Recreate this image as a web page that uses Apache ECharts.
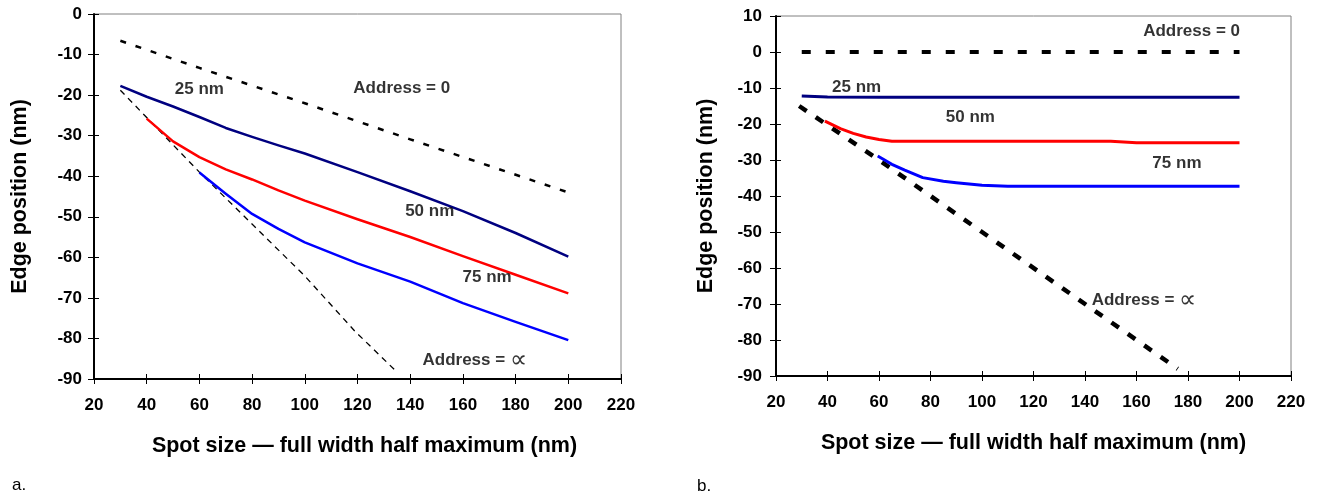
<!DOCTYPE html>
<html>
<head>
<meta charset="utf-8">
<title>Edge position vs spot size</title>
<script src="https://cdn.jsdelivr.net/npm/echarts@6/dist/echarts.min.js"></script>
<style>
  html, body { margin: 0; padding: 0; background: #ffffff; }
  #chart { width: 1317px; height: 500px; }
</style>
</head>
<body>
<div id="chart"></div>
<script>
// ---- Panel a: edge position for several address values ----
const spotA_addr0 = [30, 60, 100, 140, 200];
const edgeA_addr0 = [-6.6, -13.3, -22.0, -30.9, -44.0];
const spotA_25 = [30, 40, 50, 60, 70, 80, 90, 100, 120, 140, 160, 180, 200];
const edgeA_25 = [-17.7, -20.4, -22.8, -25.4, -28.1, -30.3, -32.4, -34.4, -39.0, -43.7, -48.6, -54.0, -59.8];
const spotA_50 = [40, 50, 60, 70, 80, 90, 100, 120, 140, 160, 180, 200];
const edgeA_50 = [-25.8, -31.4, -35.3, -38.3, -40.8, -43.5, -46.0, -50.6, -55.0, -59.7, -64.3, -68.9];
const spotA_75 = [60, 70, 80, 90, 100, 120, 140, 160, 180, 200];
const edgeA_75 = [-39.1, -44.3, -49.3, -53.0, -56.3, -61.5, -66.0, -71.3, -75.9, -80.4];
const spotA_inf = [30, 60, 100, 119, 135];
const edgeA_inf = [-18.8, -39.0, -64.6, -78.2, -88.3];

// ---- Panel b ----
const spotB_addr0 = [30, 200];
const edgeB_addr0 = [0, 0];
const spotB_25 = [30, 40, 60, 100, 150, 200];
const edgeB_25 = [-12.2, -12.5, -12.6, -12.6, -12.6, -12.6];
const spotB_50 = [39, 45, 50, 55, 60, 65, 100, 150, 160, 200];
const edgeB_50 = [-19.2, -21.3, -22.6, -23.6, -24.3, -24.8, -24.8, -24.8, -25.2, -25.2];
const spotB_75 = [59.5, 65, 70, 77, 85, 90, 100, 110, 150, 200];
const edgeB_75 = [-28.9, -31.2, -32.8, -34.9, -35.9, -36.3, -37.0, -37.3, -37.3, -37.3];
const spotB_inf = [29, 60, 100, 140, 176];
const edgeB_inf = [-15, -30, -50, -70, -88];

// Curve annotations: text and anchor in data units ("sym" adds a large ∝ after the text)
const labelsA = [
  { text: '25 nm', x: 60.0, y: -18.6 },
  { text: 'Address = 0', x: 136.8, y: -18.3 },
  { text: '50 nm', x: 147.4, y: -48.6 },
  { text: '75 nm', x: 169.2, y: -65.0 },
  { text: 'Address = ', sym: '\u221D', x: 164.5, y: -85.5 }
];
const labelsB = [
  { text: 'Address = 0', x: 181.4, y: 5.8 },
  { text: '25 nm', x: 51.3, y: -9.7 },
  { text: '50 nm', x: 95.5, y: -18.2 },
  { text: '75 nm', x: 175.7, y: -31.0 },
  { text: 'Address = ', sym: '\u221D', x: 162.9, y: -69.1 }
];

const xTitle = 'Spot size \u2014 full width half maximum (nm)';
const yTitle = 'Edge position (nm)';
const panelTags = ['a.', 'b.'];

const FONT = '"Liberation Sans", Arial, "DejaVu Sans", sans-serif';
const NAVY = '#000080', RED = '#ff0000', BLUE = '#0000ff', BLACK = '#000000';

function zip(xs, ys) { return xs.map((x, i) => [x, ys[i]]); }

const tickLabel = { color: BLACK, fontFamily: FONT, fontWeight: 'bold', fontSize: 17 };
const titleStyle = { color: BLACK, fontFamily: FONT, fontWeight: 'bold', fontSize: 21.5 };

// Each axis is drawn twice: once with outward ticks and labels, once with inward ticks,
// so the tick marks cross the axis line.
function xAxes(gridIndex, nameShift, nameGap) {
  return [
    {
      type: 'value', gridIndex, min: 20, max: 220, interval: 20, position: 'bottom',
      axisLine: { show: true, onZero: false, lineStyle: { color: BLACK, width: 2 } },
      axisTick: { show: true, length: 5, lineStyle: { color: BLACK, width: 1 } },
      axisLabel: Object.assign({ margin: 18 }, tickLabel),
      splitLine: { show: false },
      name: xTitle, nameLocation: 'middle', nameGap: nameGap,
      nameTextStyle: Object.assign({ padding: [0, 0, 0, nameShift] }, titleStyle)
    },
    {
      type: 'value', gridIndex, min: 20, max: 220, interval: 20, position: 'bottom',
      axisLine: { show: false, onZero: false },
      axisTick: { show: true, inside: true, length: 5, lineStyle: { color: BLACK, width: 1 } },
      axisLabel: { show: false }, splitLine: { show: false }
    }
  ];
}
function yAxes(gridIndex, max, nameGap, labelMargin) {
  return [
    {
      type: 'value', gridIndex, min: -90, max: max, interval: 10, position: 'left',
      axisLine: { show: true, onZero: false, lineStyle: { color: BLACK, width: 2 } },
      axisTick: { show: true, length: 6, lineStyle: { color: BLACK, width: 1 } },
      axisLabel: Object.assign({ margin: labelMargin }, tickLabel),
      splitLine: { show: false },
      name: yTitle, nameLocation: 'middle', nameGap: nameGap,
      nameTextStyle: titleStyle
    },
    {
      type: 'value', gridIndex, min: -90, max: max, interval: 10, position: 'left',
      axisLine: { show: false, onZero: false },
      axisTick: { show: true, inside: true, length: 5, lineStyle: { color: BLACK, width: 1 } },
      axisLabel: { show: false }, splitLine: { show: false }
    }
  ];
}

function curve(name, xi, yi, xs, ys, color, width, dash) {
  return {
    name, type: 'line', xAxisIndex: xi, yAxisIndex: yi,
    data: zip(xs, ys), showSymbol: false, symbol: 'none', smooth: false,
    silent: true, animation: false, z: 3,
    lineStyle: { color, width, type: dash || 'solid', cap: 'butt', join: 'round' }
  };
}
function notes(xi, yi, list) {
  return {
    type: 'scatter', xAxisIndex: xi, yAxisIndex: yi, symbolSize: 0, silent: true,
    animation: false, z: 5,
    data: list.map(l => ({ value: [l.x, l.y], name: l.text, sym: l.sym || '' })),
    label: {
      show: true, position: 'inside',
      formatter: p => '{t|' + p.data.name + '}' + (p.data.sym ? '{s|' + p.data.sym + '}' : ''),
      rich: {
        t: { color: BLACK, fontFamily: FONT, fontWeight: 'bold', fontSize: 17 },
        s: { color: BLACK, fontFamily: FONT, fontWeight: 'normal', fontSize: 24 }
      }
    }
  };
}

const option = {
  backgroundColor: '#ffffff',
  animation: false,
  grid: [
    { left: 94, top: 14, width: 527, height: 365, show: true, borderColor: '#808080', borderWidth: 1, backgroundColor: 'transparent' },
    { left: 776, top: 16, width: 515, height: 360, show: true, borderColor: '#808080', borderWidth: 1, backgroundColor: 'transparent' }
  ],
  xAxis: [...xAxes(0, 14, 56), ...xAxes(1, 0, 56)],
  yAxis: [...yAxes(0, 0, 63, 12), ...yAxes(1, 10, 59, 14)],
  series: [
    curve('Address = 0', 0, 0, spotA_addr0, edgeA_addr0, BLACK, 2.5, [6, 10]),
    curve('Address = \u221D', 0, 0, spotA_inf, edgeA_inf, BLACK, 1.3, [6, 5]),
    curve('25 nm', 0, 0, spotA_25, edgeA_25, NAVY, 2.5),
    curve('50 nm', 0, 0, spotA_50, edgeA_50, RED, 2.5),
    curve('75 nm', 0, 0, spotA_75, edgeA_75, BLUE, 2.5),
    notes(0, 0, labelsA),

    curve('Address = 0', 2, 2, spotB_addr0, edgeB_addr0, BLACK, 4, [9, 15]),
    curve('Address = \u221D', 2, 2, spotB_inf, edgeB_inf, BLACK, 4.5, [9, 11]),
    curve('25 nm', 2, 2, spotB_25, edgeB_25, NAVY, 3),
    curve('50 nm', 2, 2, spotB_50, edgeB_50, RED, 3),
    curve('75 nm', 2, 2, spotB_75, edgeB_75, BLUE, 3),
    notes(2, 2, labelsB)
  ],
  graphic: [
    { type: 'text', left: 12, top: 477, style: { text: panelTags[0], fill: BLACK, font: '17px ' + FONT } },
    { type: 'text', left: 697, top: 478, style: { text: panelTags[1], fill: BLACK, font: '17px ' + FONT } }
  ]
};

const chart = echarts.init(document.getElementById('chart'), null, { renderer: 'canvas' });
chart.setOption(option);
</script>
</body>
</html>
